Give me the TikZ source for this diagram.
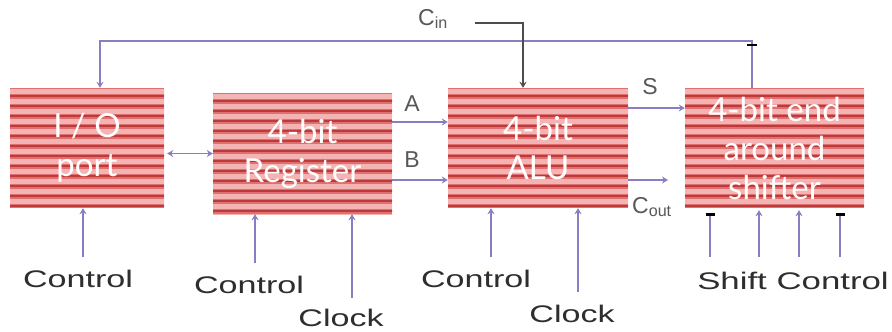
\documentclass[tikz,border=0pt]{standalone}
\usepackage{fontspec}
\usepackage{graphicx}
\setmainfont{Liberation Sans}
\newfontfamily\boxfont{Lato}
\usetikzlibrary{arrows.meta}
\definecolor{stlight}{HTML}{F4B4B4}
\definecolor{stmid}{HTML}{E07070}
\definecolor{stdark}{HTML}{BC3A3A}
\definecolor{wire}{HTML}{8A7EC0}
\definecolor{lbl}{HTML}{2E2E2E}
\begin{document}
\begin{tikzpicture}[x=1pt,y=-1pt,
  blk/.style={minimum width=#1, minimum height=120pt, inner sep=0pt,
    fill=stmid, text=white, align=center,
    font=\boxfont\fontsize{33}{39}\selectfont,
    path picture={
      \foreach \i in {0,...,12}{
        \fill[stlight] ([yshift=-\i*10pt-1pt]path picture bounding box.north west) rectangle ++(200,5);
        \fill[stdark] ([yshift=-\i*10pt-7pt]path picture bounding box.north west) rectangle ++(200,2);
      }
    }},
  arr/.style={draw=wire, line width=1.6pt, -{Stealth[length=6pt,width=7pt]}},
  barr/.style={draw=wire, line width=1.6pt, -{Bar[width=9pt,line width=2.5pt,color=black]}},
  lab/.style={text=lbl, font=\fontsize{24}{24}\selectfont, inner sep=0pt},
  sig/.style={text=lbl!80, font=\fontsize{23}{23}\selectfont, inner sep=0pt}
]
\useasboundingbox (0,0) rectangle (892,332);
\fill[white] (0,0) rectangle (892,332);

\node[blk=154pt] (io) at (87,148) {I / O\\port};
\node[blk=179pt, minimum height=121pt] (reg) at (302.5,153.5) {4-bit\\Register};
\node[blk=180pt] (alu) at (538,148) {4-bit\\ALU};
\node[blk=179pt] (sh) at (774.5,148) {4-bit end\\around\\shifter};

% labels
\node[sig] (la) at (412,104) {A};
\node[sig] (lb) at (412,160) {B};
\node[sig] (ls) at (650,87) {S};
\node[sig, anchor=west] (cin) at (418,19) {C\textsubscript{in}};
\node[sig, anchor=west] (cout) at (632,207) {C\textsubscript{out}};

\node[lab] (c1) at (78,279) {\scalebox{1.42}[1]{Control}};
\node[lab] (c2) at (249,285) {\scalebox{1.42}[1]{Control}};
\node[lab] (k1) at (341,318) {\scalebox{1.42}[1]{Clock}};
\node[lab] (c3) at (476,279) {\scalebox{1.42}[1]{Control}};
\node[lab] (k2) at (572,314) {\scalebox{1.42}[1]{Clock}};
\node[lab] (sc) at (793,281) {\scalebox{1.45}[1]{Shift Control}};

% coordinates
\coordinate (ya) at (0,122);
\coordinate (yb) at (0,180);
\coordinate (ys) at (0,108);
\coordinate (coutend) at (668,180);
\coordinate (cinstart) at (475,23);
\coordinate (io1) at (83,257);
\coordinate (r1) at (255,263);
\coordinate (r2) at (352,298);
\coordinate (a1) at (491,257);
\coordinate (a2) at (578,292);
\coordinate (s1) at (710,257);
\coordinate (s2) at (759,257);
\coordinate (s3) at (799,257);
\coordinate (s4) at (840,257);

% feedback loop
\draw[arr] (sh.north -| 752,0) -- (752,41) -- (100,41) -- (io.north -| 100,0);
\draw[black, line width=2.5pt] (747,45) -- (757,45);

% carry in
\draw[draw=lbl!85, line width=1.6pt, -{Stealth[length=6pt,width=7pt]}] (cinstart) -| (alu.north -| 523,0);

% data paths
\draw[draw=wire, line width=1.6pt, {Stealth[length=6pt,width=7pt]}-{Stealth[length=6pt,width=7pt]}] ([xshift=3pt]io.east |- reg) -- (reg.west);
\draw[arr] (reg.east |- ya) -- (alu.west |- ya);
\draw[arr] (reg.east |- yb) -- (alu.west |- yb);
\draw[arr] (alu.east |- ys) -- (sh.west |- ys);
\draw[arr] (alu.east |- yb) -- (coutend);

% control inputs
\draw[arr] (io1) -- (io.south -| io1);
\draw[arr] (r1) -- (reg.south -| r1);
\draw[arr] (r2) -- (reg.south -| r2);
\draw[arr] (a1) -- (alu.south -| a1);
\draw[arr] (a2) -- (alu.south -| a2);
\draw[barr] (s1) -- ([yshift=-5pt]sh.south -| s1);
\draw[arr] (s2) -- ([yshift=-2pt]sh.south -| s2);
\draw[arr] (s3) -- ([yshift=-2pt]sh.south -| s3);
\draw[barr] (s4) -- ([yshift=-5pt]sh.south -| s4);
\end{tikzpicture}
\end{document}
